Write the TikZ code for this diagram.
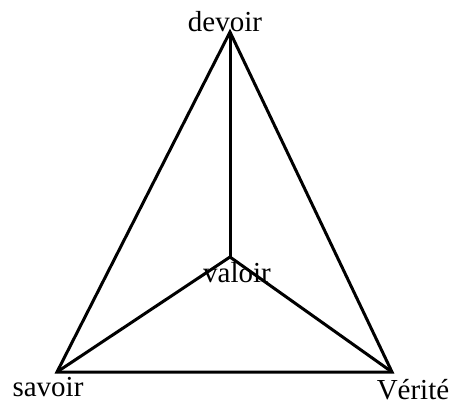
\documentclass[tikz,border=0pt]{standalone}
\usepackage{fontspec}
\setmainfont{Liberation Serif}
\begin{document}
\begin{tikzpicture}[x=1pt,y=-1pt,
  lbl/.style={inner sep=0pt,anchor=base,font=\fontsize{29}{34}\selectfont},
  edge/.style={line width=3pt,line join=miter}]
\useasboundingbox (0,0) rectangle (455,405);
\coordinate (t) at (230,32);
\coordinate (c) at (230,257);
\coordinate (l) at (57,372);
\coordinate (r) at (392,372);
\node[lbl] (devoir) at (225,31) {devoir};
\node[lbl] (valoir) at (237,282) {valoir};
\node[lbl] (savoir) at (48,396) {savoir};
\node[lbl] (verite) at (413,399) {Vérité};
\draw[edge] (l) -- (t) -- (r) -- cycle;
\draw[edge] (t) -- (c);
\draw[edge] (l) -- (c) -- (r);
\end{tikzpicture}
\end{document}
